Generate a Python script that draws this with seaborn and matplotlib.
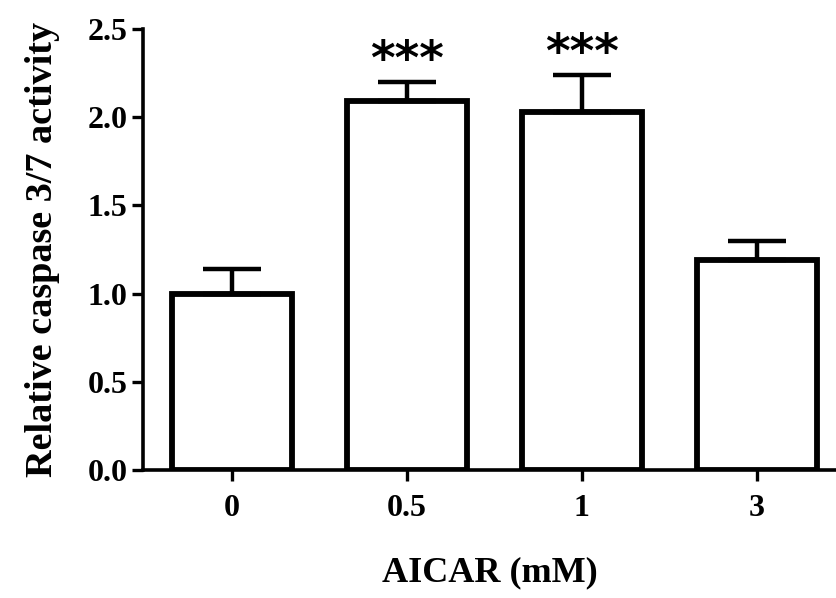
import matplotlib
matplotlib.use("Agg")
import matplotlib.pyplot as plt
import seaborn as sns
import pandas as pd

# ---- data ----
categories = ["0", "0.5", "1", "3"]
means = [1.00, 2.09, 2.03, 1.19]
errors = [0.14, 0.11, 0.21, 0.11]
significance = ["", "***", "***", ""]
yticks = [0.0, 0.5, 1.0, 1.5, 2.0, 2.5]
ytick_labels = ["0.0", "0.5", "1.0", "1.5", "2.0", "2.5"]

sns.set_style("ticks")
plt.rcParams["font.family"] = ["Liberation Serif", "DejaVu Serif"]
plt.rcParams["text.color"] = "black"
plt.rcParams["axes.labelcolor"] = "black"
plt.rcParams["xtick.color"] = "black"
plt.rcParams["ytick.color"] = "black"
plt.rcParams["axes.edgecolor"] = "black"

df = pd.DataFrame({"dose": categories, "activity": means})

fig = plt.figure(figsize=(8.37, 5.98), dpi=100)
ax = fig.add_axes([0.1708, 0.2140, 0.8292, 0.7375])

sns.barplot(data=df, x="dose", y="activity", order=categories, color="white",
            edgecolor="black", linewidth=4.2, width=0.686, errorbar=None,
            saturation=1, ax=ax)

centers = [p.get_x() + p.get_width() / 2 for p in ax.patches]
ax.errorbar(centers, means, yerr=[[0] * len(errors), errors], fmt="none",
            ecolor="black", elinewidth=3.2, capsize=21, capthick=3.2, zorder=1)

for xc, m, e, s in zip(centers, means, errors, significance):
    if s:
        ax.text(xc, m + e + 0.115, s, ha="center", va="center", fontsize=34,
                fontweight="bold", color="black", family=["DejaVu Sans"])

ax.set_ylim(0, 2.5)
ax.set_xlim(-0.51, 3.46)
ax.set_yticks(yticks)
ax.set_yticklabels(ytick_labels)
ax.set_xlabel("AICAR (mM)", fontsize=26, fontweight="bold", labelpad=24)
ax.set_ylabel("Relative caspase 3/7 activity", fontsize=27.5, fontweight="bold", labelpad=20)
ax.tick_params(axis="both", direction="out", length=8, width=2.4, labelsize=23,
               colors="black")
for lab in ax.get_xticklabels() + ax.get_yticklabels():
    lab.set_fontweight("bold")
ax.tick_params(axis="x", pad=9)
ax.tick_params(axis="y", pad=3)
sns.despine(ax=ax)
for sp in ["left", "bottom"]:
    ax.spines[sp].set_linewidth(2.6)
    ax.spines[sp].set_color("black")

fig.savefig("out.png", dpi=100)
